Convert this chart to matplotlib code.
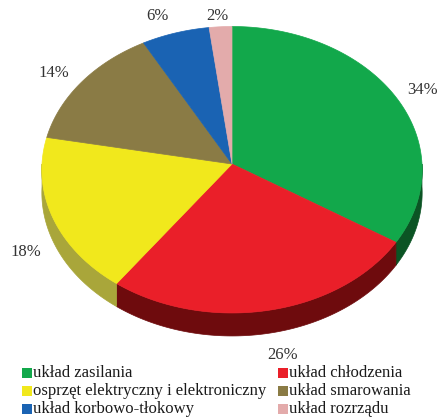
import numpy as np
import matplotlib.pyplot as plt
from matplotlib.patches import Polygon, Rectangle

plt.rcParams['font.family'] = ['Liberation Serif', 'DejaVu Serif']

labels = ['układ zasilania', 'układ chłodzenia', 'osprzęt elektryczny i elektroniczny',
          'układ smarowania', 'układ korbowo-tłokowy', 'układ rozrządu']
shares = [34, 26, 18, 14, 6, 2]
top_colors = ['#12a84b', '#ea1f29', '#f1e81c', '#8a7b45', '#1a63b3', '#e3abab']
side_colors = ['#0b5424', '#6e0b0d', '#a9a63a', '#5e5330', '#0e3d70', '#9c7575']
label_pos = [(423, 90), (283, 355), (26, 252), (54, 73), (157, 16), (217, 16)]

# pie geometry in pixels, k gives a little perspective
cx, cy, rx, ry, depth, k = 232, 164, 190, 143, 23, 0.04

fig = plt.figure(figsize=(4.4, 4.17), dpi=100)
ax = fig.add_axes([0, 0, 1, 1])
ax.set_xlim(0, 440)
ax.set_ylim(417, 0)
ax.axis('off')


def arc(t0, t1, dy=0):
    t = np.radians(np.linspace(t0, t1, 120))
    w = 1 + k * np.sin(t)
    return np.column_stack([cx + rx * np.cos(t) / w, cy - ry * np.sin(t) / w + dy])


fracs = np.array(shares) / np.sum(shares)
ends = 90 - 360 * np.cumsum(fracs)
starts = np.concatenate([[90], ends[:-1]])

# side walls (front half only)
for a_hi, a_lo, col in zip(starts, ends, side_colors):
    lo, hi = max(a_lo, -180), min(a_hi, 0)
    if lo >= hi:
        continue
    top = arc(lo, hi)
    bot = arc(hi, lo, depth)
    ax.add_patch(Polygon(np.vstack([top, bot]), closed=True, facecolor=col,
                         edgecolor=col, linewidth=0.5))

# top face
for a_hi, a_lo, col in zip(starts, ends, top_colors):
    pts = np.vstack([[cx, cy], arc(a_lo, a_hi)])
    ax.add_patch(Polygon(pts, closed=True, facecolor=col, edgecolor=col, linewidth=0.5))

for s, (x, y) in zip(shares, label_pos):
    ax.text(x, y, f'{s}%', ha='center', va='center', fontsize=12, color='#333333')

# legend
leg_x = [22, 278]
leg_y = [373, 391, 409]
for i, (lab, col) in enumerate(zip(labels, top_colors)):
    x = leg_x[i % 2]
    y = leg_y[i // 2]
    ax.add_patch(Rectangle((x, y - 5), 10, 10, facecolor=col, edgecolor='none'))
    ax.text(x + 11, y, lab, ha='left', va='center', fontsize=12, color='#1a1a1a')

fig.savefig('out.png', dpi=100)
